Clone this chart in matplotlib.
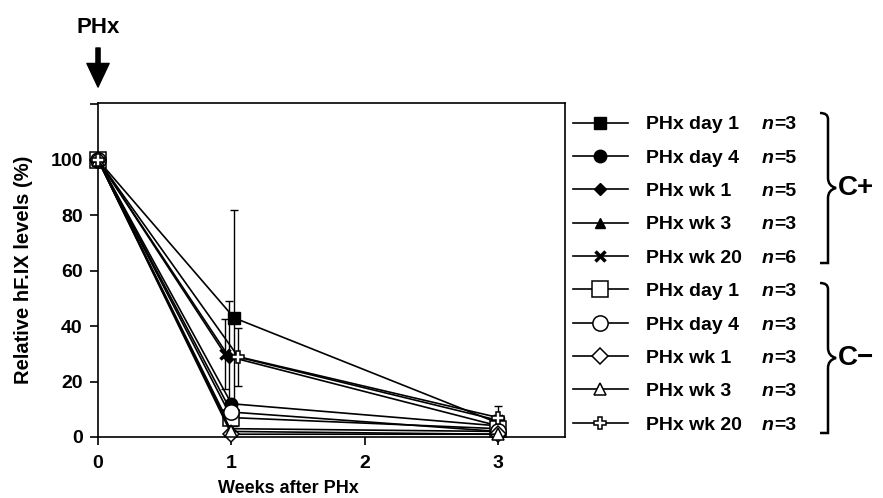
import matplotlib.pyplot as plt
import numpy as np
from matplotlib.path import Path
from matplotlib.patches import PathPatch

plt.rcParams['font.family'] = 'Liberation Sans'
plt.rcParams['font.weight'] = 'bold'
plt.rcParams['font.size'] = 13

weeks = [0, 1, 3]
labels = ['PHx day 1', 'PHx day 4', 'PHx wk 1', 'PHx wk 3', 'PHx wk 20']
cplus_n = [3, 5, 5, 3, 6]
cminus_n = [3, 3, 3, 3, 3]
cplus_vals = [[100, 43, 5], [100, 12, 4], [100, 29, 4], [100, 3, 2], [100, 30, 6]]
cplus_err = [[0, 39, 0], [0, 0, 0], [0, 20, 0], [0, 0, 0], [0, 12.5, 0]]
cminus_vals = [[100, 7, 3], [100, 9, 2], [100, 1, 1], [100, 2, 1], [100, 29, 7]]
cminus_err = [[0, 0, 0], [0, 0, 0], [0, 0, 0], [0, 0, 0], [0, 10.5, 4.3]]

# small horizontal shifts at week 1 so the error bars don't sit on top of each other
cplus_shift = [0.02, 0, -0.02, 0, -0.05]
cminus_shift = [0, 0, 0, 0, 0.05]

markers = ['s', 'o', 'D', '^', 'x']
open_markers = ['s', 'o', 'D', '^', 'P']
msizes = [9, 9, 6, 7, 7]

fig = plt.figure(figsize=(8.83, 4.98), dpi=100)
ax = fig.add_axes([0.111, 0.1225, 0.529, 0.6705])

handles = []
for vals, errs, shift, mk, ms in zip(cplus_vals, cplus_err, cplus_shift, markers, msizes):
    x = np.array(weeks, dtype=float)
    x[1] += shift
    ln, = ax.plot(x, vals, color='black', lw=1.2, marker=mk, ms=ms,
                  mfc='black', mec='black', mew=2.5 if mk == 'x' else 1,
                  clip_on=False, zorder=3)
    if max(errs) > 0:
        ax.errorbar(x, vals, yerr=errs, fmt='none', ecolor='black', elinewidth=1,
                    capsize=3, capthick=1, zorder=2)
    handles.append(ln)

for vals, errs, shift, mk, ms in zip(cminus_vals, cminus_err, cminus_shift, open_markers, msizes):
    x = np.array(weeks, dtype=float)
    x[1] += shift
    ln, = ax.plot(x, vals, color='black', lw=1.2, marker=mk, ms=ms + 2,
                  mfc='white', mec='black', mew=1.1, clip_on=False, zorder=4)
    if max(errs) > 0:
        ax.errorbar(x, vals, yerr=errs, fmt='none', ecolor='black', elinewidth=1,
                    capsize=3, capthick=1, zorder=2)
    handles.append(ln)

ax.set_xlim(0, 3.5)
ax.set_ylim(0, 120.5)
ax.set_xticks([0, 1, 2, 3])
ax.set_yticks([0, 20, 40, 60, 80, 100, 120])
ax.set_yticklabels(['0', '20', '40', '60', '80', '100', ''])
ax.tick_params(direction='out', length=6, width=1.2, labelsize=14)
ax.tick_params(axis='x', pad=7)
ax.tick_params(axis='y', pad=5)
for s in ax.spines.values():
    s.set_linewidth(1.2)

ax.set_xlabel('Weeks after PHx', fontsize=13, fontweight='bold')
ax.xaxis.set_label_coords(0.407, -0.13)
ax.set_ylabel('Relative hF.IX levels (%)', fontsize=14.5, fontweight='bold')
ax.yaxis.set_label_coords(-0.14, 0.5)

# PHx arrow
ax.annotate('', xy=(0, 1.048), xycoords=('data', 'axes fraction'),
            xytext=(0, 1.165), textcoords=('data', 'axes fraction'),
            arrowprops=dict(facecolor='black', edgecolor='black', width=3,
                            headwidth=16, headlength=17, shrink=0),
            annotation_clip=False)
ax.text(0, 1.225, 'PHx', transform=ax.get_xaxis_transform(), ha='center',
        va='center', fontsize=16, fontweight='bold')

leg = ax.legend(handles, labels + labels, loc='upper left', bbox_to_anchor=(1.017, 0.962),
                frameon=False, borderaxespad=0, borderpad=0, handlelength=2.8,
                handletextpad=0.93, labelspacing=0.81, fontsize=14)
for t in leg.get_texts():
    t.set_fontweight('bold')

fig.canvas.draw()
W, H = fig.get_size_inches() * fig.dpi
for t, n in zip(leg.get_texts(), cplus_n + cminus_n):
    bb = t.get_window_extent()
    yc = (bb.y0 + bb.y1) / 2 / H
    nt = fig.text(762 / W, yc, 'n', style='italic', fontweight='bold', fontsize=14,
                  va='center', ha='left')
    ax.annotate('=%d' % n, xy=(1, 0.5), xycoords=nt, va='center', ha='left',
                fontsize=14, fontweight='bold', annotation_clip=False)


def brace(x0, ytop, ybot, w):
    # "}" shaped brace in pixel coordinates (y measured from top)
    ym = (ytop + ybot) / 2
    xm = x0 + w * 0.5
    verts = [(x0, ytop), (xm, ytop), (xm, ytop + 6), (xm, ytop + 10),
             (xm, ym - 10), (xm, ym - 2), (x0 + w, ym),
             (xm, ym + 2), (xm, ym + 10),
             (xm, ybot - 10), (xm, ybot - 6), (xm, ybot), (x0, ybot)]
    codes = [Path.MOVETO, Path.CURVE3, Path.CURVE3, Path.LINETO,
             Path.LINETO, Path.CURVE3, Path.CURVE3,
             Path.CURVE3, Path.CURVE3,
             Path.LINETO, Path.CURVE3, Path.CURVE3, Path.LINETO]
    verts = [(vx / W, 1 - vy / H) for vx, vy in verts]
    fig.add_artist(PathPatch(Path(verts, codes), transform=fig.transFigure,
                             fill=False, lw=1.8, edgecolor='black'))


brace(820, 113, 263, 16)
brace(820, 283, 433, 16)
fig.text(838 / W, 1 - 188 / H, 'C+', fontsize=20, fontweight='bold', va='center')
fig.text(838 / W, 1 - 358 / H, 'C\u2212', fontsize=20, fontweight='bold', va='center')

fig.savefig('out.png', dpi=100)
